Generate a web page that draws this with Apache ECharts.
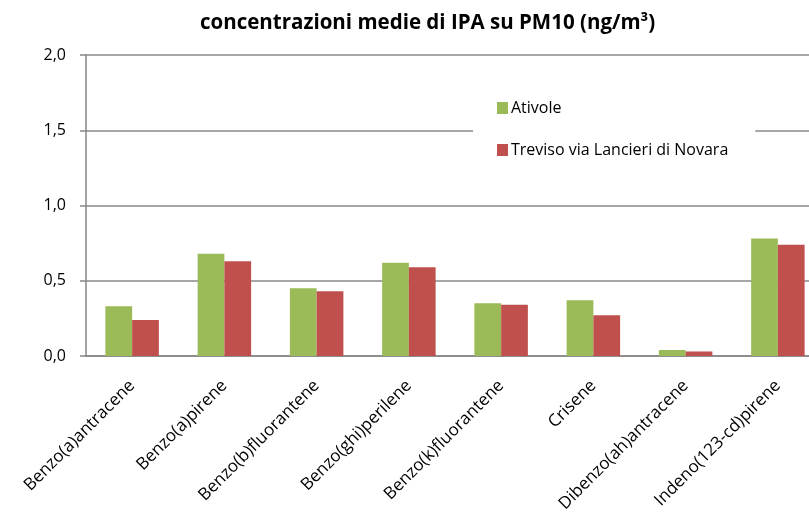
<!DOCTYPE html>
<html>
<head>
<meta charset="utf-8">
<script src="https://cdn.jsdelivr.net/npm/echarts@6/dist/echarts.min.js"></script>
<style>
html,body{margin:0;padding:0;background:#fff;}
#main{width:809px;height:515px;}
</style>
</head>
<body>
<div id="main"></div>
<script type="text/javascript">
// dati
var categorie = ['Benzo(a)antracene','Benzo(a)pirene','Benzo(b)fluorantene','Benzo(ghi)perilene','Benzo(k)fluorantene','Crisene','Dibenzo(ah)antracene','Indeno(123-cd)pirene'];
var ativole = [0.33, 0.68, 0.45, 0.62, 0.35, 0.37, 0.04, 0.78];
var treviso = [0.24, 0.63, 0.43, 0.59, 0.34, 0.27, 0.03, 0.74];

var myChart = echarts.init(document.getElementById('main'));

var font = '"Open Sans", sans-serif';
var option = {
    animation: false,
    backgroundColor: '#fff',
    title: {
        text: 'concentrazioni medie di IPA su PM10 (ng/m³)',
        left: 195,
        top: 8,
        textStyle: { fontFamily: font, fontSize: 20.5, fontWeight: 'bold', color: '#000' }
    },
    legend: {
        orient: 'vertical',
        left: 473,
        top: 86,
        padding: [14, 27, 16, 24],
        backgroundColor: '#fff',
        itemWidth: 11,
        itemHeight: 12,
        itemGap: 26,
        icon: 'rect',
        textStyle: { fontFamily: font, fontSize: 16, color: '#000', padding: [0, 0, 0, -2] },
        data: ['Ativole', 'Treviso via Lancieri di Novara']
    },
    grid: { left: 86, top: 55, width: 738, height: 301, outerBoundsMode: 'none', containLabel: false },
    xAxis: {
        type: 'category',
        data: categorie,
        axisLine: { lineStyle: { color: '#868686', width: 1.5 } },
        axisTick: { length: 6, lineStyle: { color: '#868686', width: 1.5 } },
        axisLabel: { interval: 0, rotate: 45, margin: 27, fontFamily: font, fontSize: 17, color: '#000' }
    },
    yAxis: {
        type: 'value',
        min: 0, max: 2, interval: 0.5,
        axisLine: { show: true, lineStyle: { color: '#868686', width: 1.5 } },
        axisTick: { show: true, length: 6, lineStyle: { color: '#868686', width: 1.5 } },
        splitLine: { lineStyle: { color: '#8a8a8a', width: 1.5 } },
        axisLabel: {
            margin: 20, fontFamily: font, fontSize: 16, color: '#000',
            formatter: function (v) { return v.toFixed(1).replace('.', ','); }
        }
    },
    series: [
        { name: 'Ativole', type: 'bar', data: ativole, barGap: '0%', barCategoryGap: '42%', itemStyle: { color: '#9BBB59' } },
        { name: 'Treviso via Lancieri di Novara', type: 'bar', data: treviso, itemStyle: { color: '#C0504D' } }
    ]
};
myChart.setOption(option);
</script>
</body>
</html>
